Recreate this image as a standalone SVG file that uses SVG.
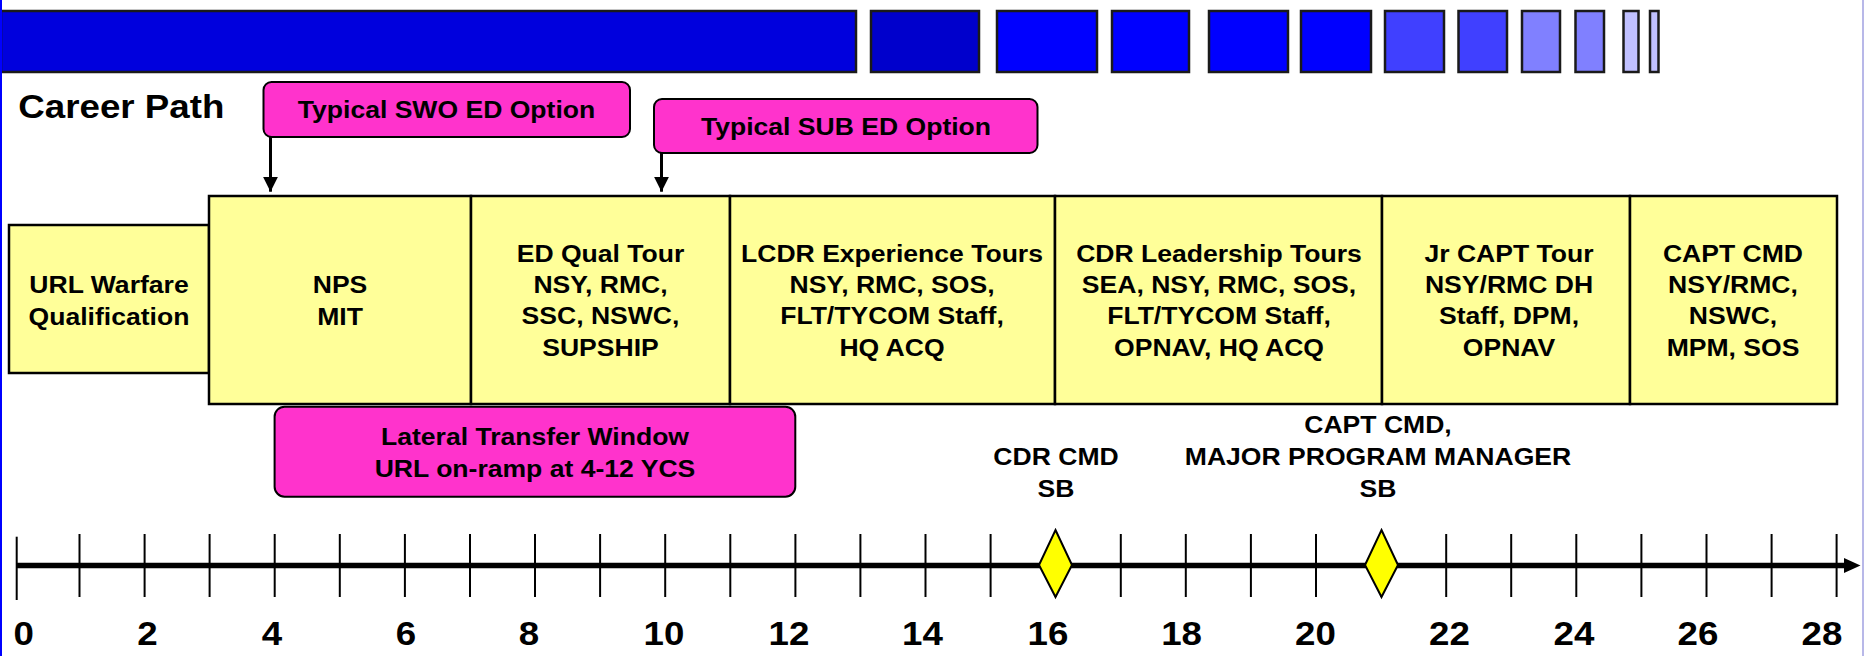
<svg xmlns="http://www.w3.org/2000/svg" width="1864" height="656" viewBox="0 0 1864 656">
<defs>
<marker id="ah" markerUnits="userSpaceOnUse" markerWidth="16" markerHeight="16" refX="15" refY="7.5" orient="auto"><path d="M0,0 L15,7.5 L0,15 Z" fill="#000"/></marker>
</defs>
<style>
.t{font-family:"Liberation Sans",Arial,sans-serif;font-weight:bold;fill:#000;text-anchor:middle;font-size:23.3px}
.n{font-family:"Liberation Sans",Arial,sans-serif;font-weight:bold;fill:#000;text-anchor:middle;font-size:32.5px}
.y{fill:#FFFF99;stroke:#000;stroke-width:2.5}
.p{fill:#FF33CC;stroke:#000;stroke-width:2}
.b{stroke:#1a1a1a;stroke-width:2.5}
.tk{stroke:#000;stroke-width:2}
.c{stroke:#000;stroke-width:3;fill:none}
.d{fill:#FFFF00;stroke:#000;stroke-width:2}
</style>
<rect x="0" y="0" width="1864" height="656" fill="#FFFFFF"/>
<g id="topbar">
<rect class="b" x="1" y="11" width="855" height="61" fill="#0000DD"/>
<rect class="b" x="871" y="11" width="108" height="61" fill="#0000CC"/>
<rect class="b" x="997" y="11" width="100" height="61" fill="#0000FF"/>
<rect class="b" x="1112" y="11" width="77" height="61" fill="#0000FF"/>
<rect class="b" x="1209" y="11" width="79" height="61" fill="#0000FF"/>
<rect class="b" x="1301" y="11" width="70" height="61" fill="#0000FF"/>
<rect class="b" x="1385" y="11" width="59" height="61" fill="#4040FF"/>
<rect class="b" x="1458.5" y="11" width="48.5" height="61" fill="#4040FF"/>
<rect class="b" x="1522" y="11" width="38" height="61" fill="#8080FF"/>
<rect class="b" x="1575.5" y="11" width="28.5" height="61" fill="#8080FF"/>
<rect class="b" x="1623.5" y="11" width="15" height="61" fill="#C0C0FF"/>
<rect class="b" x="1650" y="11" width="8.5" height="61" fill="#C0C0FF"/>
</g>
<text class="n" style="text-anchor:start" transform="translate(18.3,118.3) scale(1.13,1)">Career Path</text>
<g id="swo">
<rect class="p" x="263.5" y="82" width="366.5" height="55" rx="8"/>
<text class="t" transform="translate(446.5,118) scale(1.14,1)">Typical SWO ED Option</text>
</g>
<g id="sub">
<rect class="p" x="654" y="99" width="383.5" height="54" rx="8"/>
<text class="t" transform="translate(846,134.7) scale(1.14,1)">Typical SUB ED Option</text>
</g>
<g id="connectors">
<line class="c" x1="270.5" y1="137" x2="270.5" y2="191.7" marker-end="url(#ah)"/>
<line class="c" x1="661.5" y1="153" x2="661.5" y2="191.7" marker-end="url(#ah)"/>
</g>
<g id="url">
<rect class="y" x="9" y="225" width="200" height="148"/>
<text class="t" transform="translate(109,293.2) scale(1.14,1)"><tspan x="0">URL Warfare</tspan><tspan x="0" dy="31.4">Qualification</tspan></text>
</g>
<g id="nps">
<rect class="y" x="209" y="196" width="262" height="208"/>
<text class="t" transform="translate(340,293.2) scale(1.14,1)"><tspan x="0">NPS</tspan><tspan x="0" dy="31.4">MIT</tspan></text>
</g>
<g id="edqual">
<rect class="y" x="471" y="196" width="259" height="208"/>
<text class="t" transform="translate(600.5,261.7) scale(1.14,1)"><tspan x="0">ED Qual Tour</tspan><tspan x="0" dy="31.4">NSY, RMC,</tspan><tspan x="0" dy="31.4">SSC, NSWC,</tspan><tspan x="0" dy="31.4">SUPSHIP</tspan></text>
</g>
<g id="lcdr">
<rect class="y" x="730" y="196" width="325" height="208"/>
<text class="t" transform="translate(892,261.7) scale(1.14,1)"><tspan x="0">LCDR Experience Tours</tspan><tspan x="0" dy="31.4">NSY, RMC, SOS,</tspan><tspan x="0" dy="31.4">FLT/TYCOM Staff,</tspan><tspan x="0" dy="31.4">HQ ACQ</tspan></text>
</g>
<g id="cdr">
<rect class="y" x="1055" y="196" width="327" height="208"/>
<text class="t" transform="translate(1219,261.7) scale(1.14,1)"><tspan x="0">CDR Leadership Tours</tspan><tspan x="0" dy="31.4">SEA, NSY, RMC, SOS,</tspan><tspan x="0" dy="31.4">FLT/TYCOM Staff,</tspan><tspan x="0" dy="31.4">OPNAV, HQ ACQ</tspan></text>
</g>
<g id="jrcapt">
<rect class="y" x="1382" y="196" width="248" height="208"/>
<text class="t" transform="translate(1509,261.7) scale(1.14,1)"><tspan x="0">Jr CAPT Tour</tspan><tspan x="0" dy="31.4">NSY/RMC DH</tspan><tspan x="0" dy="31.4">Staff, DPM,</tspan><tspan x="0" dy="31.4">OPNAV</tspan></text>
</g>
<g id="captcmd">
<rect class="y" x="1630" y="196" width="207" height="208"/>
<text class="t" transform="translate(1733,261.7) scale(1.14,1)"><tspan x="0">CAPT CMD</tspan><tspan x="0" dy="31.4">NSY/RMC,</tspan><tspan x="0" dy="31.4">NSWC,</tspan><tspan x="0" dy="31.4">MPM, SOS</tspan></text>
</g>
<g id="lateral">
<rect class="p" x="274.6" y="406.7" width="520.7" height="90" rx="10"/>
<text class="t" transform="translate(535,445) scale(1.14,1)"><tspan x="0">Lateral Transfer Window</tspan><tspan x="0" dy="31.7">URL on-ramp at 4-12 YCS</tspan></text>
</g>
<g id="cdrsb">
<text class="t" transform="translate(1056,465) scale(1.14,1)"><tspan x="0">CDR CMD</tspan><tspan x="0" dy="31.7">SB</tspan></text>
</g>
<g id="captsb">
<text class="t" transform="translate(1378,432.7) scale(1.14,1)"><tspan x="0">CAPT CMD,</tspan><tspan x="0" dy="32.3">MAJOR PROGRAM MANAGER</tspan><tspan x="0" dy="31.7">SB</tspan></text>
</g>
<g id="axis">
<line x1="16.7" y1="565.5" x2="1846" y2="565.5" stroke="#000" stroke-width="5.5"/>
<polygon points="1844,558 1860.5,565.5 1844,573" fill="#000"/>
<line class="tk" x1="16.7" y1="536.7" x2="16.7" y2="600"/>
<line class="tk" x1="79.5" y1="534" x2="79.5" y2="597"/>
<line class="tk" x1="144.6" y1="534" x2="144.6" y2="597"/>
<line class="tk" x1="209.6" y1="534" x2="209.6" y2="597"/>
<line class="tk" x1="274.7" y1="534" x2="274.7" y2="597"/>
<line class="tk" x1="339.8" y1="534" x2="339.8" y2="597"/>
<line class="tk" x1="404.9" y1="534" x2="404.9" y2="597"/>
<line class="tk" x1="470" y1="534" x2="470" y2="597"/>
<line class="tk" x1="535" y1="534" x2="535" y2="597"/>
<line class="tk" x1="600.1" y1="534" x2="600.1" y2="597"/>
<line class="tk" x1="665.2" y1="534" x2="665.2" y2="597"/>
<line class="tk" x1="730.3" y1="534" x2="730.3" y2="597"/>
<line class="tk" x1="795.4" y1="534" x2="795.4" y2="597"/>
<line class="tk" x1="860.4" y1="534" x2="860.4" y2="597"/>
<line class="tk" x1="925.5" y1="534" x2="925.5" y2="597"/>
<line class="tk" x1="990.6" y1="534" x2="990.6" y2="597"/>
<line class="tk" x1="1055.7" y1="534" x2="1055.7" y2="597"/>
<line class="tk" x1="1120.8" y1="534" x2="1120.8" y2="597"/>
<line class="tk" x1="1185.8" y1="534" x2="1185.8" y2="597"/>
<line class="tk" x1="1250.9" y1="534" x2="1250.9" y2="597"/>
<line class="tk" x1="1316" y1="534" x2="1316" y2="597"/>
<line class="tk" x1="1381.1" y1="534" x2="1381.1" y2="597"/>
<line class="tk" x1="1446.2" y1="534" x2="1446.2" y2="597"/>
<line class="tk" x1="1511.2" y1="534" x2="1511.2" y2="597"/>
<line class="tk" x1="1576.3" y1="534" x2="1576.3" y2="597"/>
<line class="tk" x1="1641.4" y1="534" x2="1641.4" y2="597"/>
<line class="tk" x1="1706.5" y1="534" x2="1706.5" y2="597"/>
<line class="tk" x1="1771.6" y1="534" x2="1771.6" y2="597"/>
<line class="tk" x1="1836.6" y1="534" x2="1836.6" y2="597"/>
</g>
<g id="cdrdiamond"><polygon class="d" points="1055.5,530 1072,565 1055.5,597 1039,565"/></g>
<g id="captdiamond"><polygon class="d" points="1381.5,530 1398,565 1381.5,597 1365,565"/></g>
<g id="labels">
<text class="n" transform="translate(23.7,645) scale(1.13,1)">0</text>
<text class="n" transform="translate(147.5,645) scale(1.13,1)">2</text>
<text class="n" transform="translate(272,645) scale(1.13,1)">4</text>
<text class="n" transform="translate(406,645) scale(1.13,1)">6</text>
<text class="n" transform="translate(529,645) scale(1.13,1)">8</text>
<text class="n" transform="translate(664,645) scale(1.13,1)">10</text>
<text class="n" transform="translate(789,645) scale(1.13,1)">12</text>
<text class="n" transform="translate(922.5,645) scale(1.13,1)">14</text>
<text class="n" transform="translate(1048,645) scale(1.13,1)">16</text>
<text class="n" transform="translate(1181.6,645) scale(1.13,1)">18</text>
<text class="n" transform="translate(1315.4,645) scale(1.13,1)">20</text>
<text class="n" transform="translate(1449.4,645) scale(1.13,1)">22</text>
<text class="n" transform="translate(1574,645) scale(1.13,1)">24</text>
<text class="n" transform="translate(1698,645) scale(1.13,1)">26</text>
<text class="n" transform="translate(1822,645) scale(1.13,1)">28</text>
</g>
<rect x="0" y="0" width="2" height="656" fill="#0000FF"/>
<rect x="1862" y="0" width="2" height="656" fill="#B8B8E8"/>
</svg>
